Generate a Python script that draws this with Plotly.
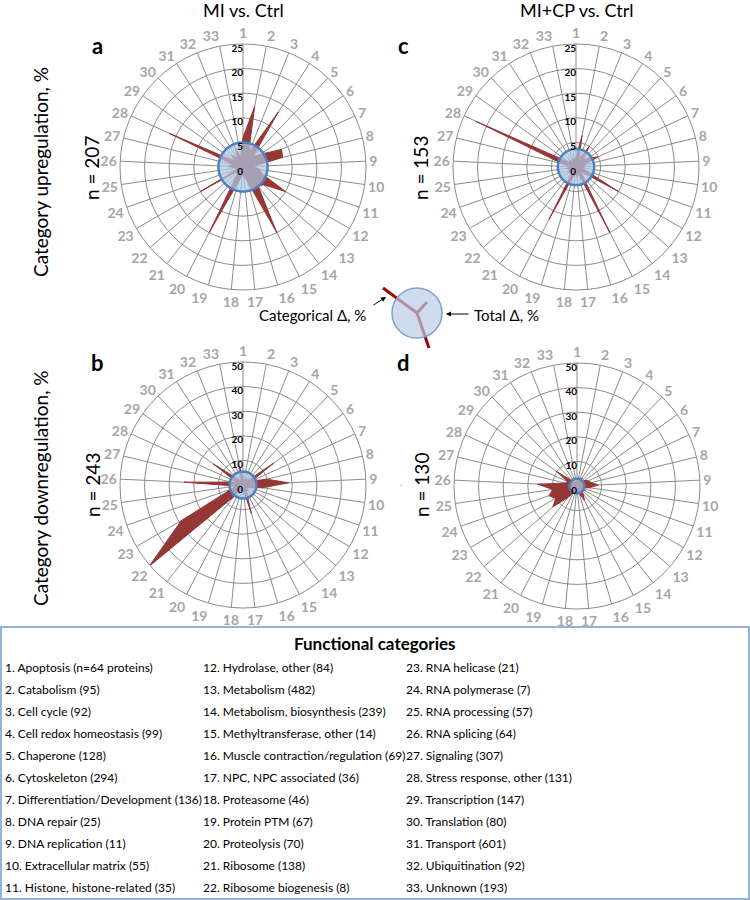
import plotly.graph_objects as go

W, H = 750, 900
FONT = "Lato, Roboto, Arial"
GRID = "#8C8C8C"
RED = "#953735"
BLUE = "#4F81BD"

# category numbers around each radar
categories = [str(i) for i in range(1, 34)]

# categorical change, % (read from the four radars)
up_mi = [6, 12.5, 3, 13.3, 3, 4.5, 8.6, 8.3, 2, 3.5, 4, 10, 5.5, 5, 15, 3, 2,
         1.5, 3, 15, 2, 1, 10, 1, 1.5, 3, 2, 16.5, 2, 3.5, 2, 4, 2]
up_cp = [2, 6.5, 1.5, 5, 2, 3, 5, 1.5, 2, 1, 2, 10, 1.5, 2, 15, 1, 2,
         1.5, 2, 12, 1, 1.5, 2, 1, 2, 1, 3, 22.4, 1.5, 2, 1, 2, 1.5]
down_mi = [3, 2, 2, 3, 2, 15.3, 4, 10, 18.6, 8, 3, 2, 2, 3, 3, 12, 2,
           1.5, 2, 2, 6, 50.5, 29, 5, 3, 24, 5, 3, 14.8, 4, 2, 2, 7.5]
down_cp = [2, 3.5, 2, 4, 2, 4, 5, 6, 8.7, 5, 2, 4, 2, 4, 6.6, 3, 2,
           1.5, 1.5, 3, 6, 13, 10, 12, 10, 16, 5, 4, 10.5, 3, 1.5, 2, 2]

# total change, %
total_up_mi = 5.0
total_up_cp = 3.7
total_down_mi = 5.5
total_down_cp = 3.0

n_up_mi, n_up_cp, n_down_mi, n_down_cp = 207, 153, 243, 130

up_ticks = [0, 5, 10, 15, 20, 25]
down_ticks = [0, 10, 20, 30, 40, 50]

legend_items = [
    "1. Apoptosis (n=64 proteins)", "2. Catabolism (95)", "3. Cell cycle (92)",
    "4. Cell redox homeostasis (99)", "5. Chaperone (128)", "6. Cytoskeleton (294)",
    "7. Differentiation/Development (136)", "8. DNA repair (25)", "9. DNA replication (11)",
    "10. Extracellular matrix (55)", "11. Histone, histone-related (35)",
    "12. Hydrolase, other (84)", "13. Metabolism (482)", "14. Metabolism, biosynthesis (239)",
    "15. Methyltransferase, other (14)", "16. Muscle contraction/regulation (69)",
    "17. NPC, NPC associated (36)", "18. Proteasome (46)", "19. Protein PTM (67)",
    "20. Proteolysis (70)", "21. Ribosome (138)", "22. Ribosome biogenesis (8)",
    "23. RNA helicase (21)", "24. RNA polymerase (7)", "25. RNA processing (57)",
    "26. RNA splicing (64)", "27. Signaling (307)", "28. Stress response, other (131)",
    "29. Transcription (147)", "30. Translation (80)", "31. Transport (601)",
    "32. Ubiquitination (92)", "33. Unknown (193)",
]


def px(x):
    return x / W


def py(y):
    return 1 - y / H


def polar_cfg(cx, cy, rad, ticks):
    return dict(
        domain=dict(x=[px(cx - rad), px(cx + rad)], y=[py(cy + rad), py(cy - rad)]),
        bgcolor="rgba(0,0,0,0)",
        radialaxis=dict(range=[0, ticks[-1]], tickvals=ticks, showticklabels=False,
                        angle=90, showline=False, ticks="", gridcolor=GRID, gridwidth=1),
        angularaxis=dict(type="category", categoryarray=categories,
                         direction="clockwise", rotation=90,
                         showline=True, linecolor=GRID, linewidth=1,
                         gridcolor=GRID, gridwidth=1, ticks="",
                         tickfont=dict(size=14, color="#A6A6A6", family=FONT, weight="bold")),
    )


fig = go.Figure()

panels = [
    ("polar", up_mi, total_up_mi, up_ticks),
    ("polar2", up_cp, total_up_cp, up_ticks),
    ("polar3", down_mi, total_down_mi, down_ticks),
    ("polar4", down_cp, total_down_cp, down_ticks),
]
for sub, vals, total, ticks in panels:
    fig.add_trace(go.Scatterpolar(
        r=vals + vals[:1], theta=categories + categories[:1], subplot=sub,
        mode="lines", fill="toself", fillcolor=RED,
        line=dict(color=RED, width=1), showlegend=False, hoverinfo="skip"))
    fig.add_trace(go.Scatterpolar(
        r=[total] * 34, theta=categories + categories[:1], subplot=sub,
        mode="lines", fill="toself", fillcolor="rgba(176,200,230,0.72)",
        line=dict(color=BLUE, width=2.5), showlegend=False, hoverinfo="skip"))
    # radial scale labels along spoke 1
    fig.add_trace(go.Scatterpolar(
        r=ticks, theta=[categories[0]] * len(ticks), subplot=sub,
        mode="text", text=[f"<b>{t}</b>" for t in ticks], textposition="bottom left",
        textfont=dict(size=10, color="black", family=FONT),
        showlegend=False, hoverinfo="skip"))

ann = []


def text(x, y, s, size=15, bold=False, color="black", xanchor="center", angle=0):
    ann.append(dict(x=px(x), y=py(y), xref="paper", yref="paper", showarrow=False,
                    text=f"<b>{s}</b>" if bold else s, textangle=angle,
                    xanchor=xanchor, yanchor="middle",
                    font=dict(size=size, color=color, family=FONT)))


text(243, 10, "MI vs. Ctrl", size=18)
text(576, 10, "MI+CP vs. Ctrl", size=18)
text(97, 45, "a", size=22, bold=True)
text(403, 45, "c", size=22, bold=True)
text(97, 362, "b", size=22, bold=True)
text(403, 362, "d", size=22, bold=True)
text(40, 172, "Category upregulation, %", size=19, angle=-90)
text(40, 488, "Category downregulation, %", size=19, angle=-90)
text(92, 168, f"n = {n_up_mi}", size=19, angle=-90)
text(421, 168, f"n = {n_up_cp}", size=19, angle=-90)
text(92, 485, f"n = {n_down_mi}", size=19, angle=-90)
text(421, 485, f"n = {n_down_cp}", size=19, angle=-90)
text(401, 483, ".", size=9, color="#4F81BD")

# small legend between the panels
text(368, 315, "Categorical Δ, %", size=15, xanchor="right")
text(472, 315, "Total Δ, %", size=15, xanchor="left")
ann.append(dict(x=px(386), y=py(297), xref="paper", yref="paper", ax=-14, ay=9,
                showarrow=True, arrowhead=2, arrowsize=1, arrowwidth=1, arrowcolor="black", text=""))
ann.append(dict(x=px(446), y=py(314), xref="paper", yref="paper", ax=24, ay=0,
                showarrow=True, arrowhead=2, arrowsize=1, arrowwidth=1, arrowcolor="black", text=""))

# legend box
text(375, 643, "Functional categories", size=17, bold=True)
col_x = [3, 201, 404]
for i, item in enumerate(legend_items):
    text(col_x[i // 11], 667 + 22 * (i % 11), item, size=12, xanchor="left")

shapes = [
    dict(type="rect", xref="paper", yref="paper", x0=px(1), x1=px(749), y0=py(627), y1=py(899),
         line=dict(color="#95B3D7", width=2)),
    dict(type="line", xref="paper", yref="paper", x0=px(383), y0=py(288), x1=px(417), y1=py(313),
         line=dict(color="#A00000", width=3)),
    dict(type="line", xref="paper", yref="paper", x0=px(417), y0=py(313), x1=px(427), y1=py(302),
         line=dict(color="#A00000", width=3)),
    dict(type="line", xref="paper", yref="paper", x0=px(417), y0=py(313), x1=px(429), y1=py(348),
         line=dict(color="#A00000", width=3)),
    dict(type="circle", xref="paper", yref="paper", x0=px(392), x1=px(442), y0=py(288), y1=py(338),
         fillcolor="rgba(185,205,229,0.7)", line=dict(color="#7FA0CC", width=1.5)),
]

fig.update_layout(
    width=W, height=H, autosize=False,
    margin=dict(l=0, r=0, t=0, b=0),
    paper_bgcolor="white", plot_bgcolor="white",
    polar=polar_cfg(243, 167, 123, up_ticks),
    polar2=polar_cfg(576, 167, 123, up_ticks),
    polar3=polar_cfg(243, 485, 123, down_ticks),
    polar4=polar_cfg(577, 486, 123, down_ticks),
    annotations=ann, shapes=shapes,
)

fig.write_html("out.html", config={"displayModeBar": False},
               post_script="document.body.style.margin='0px';")
